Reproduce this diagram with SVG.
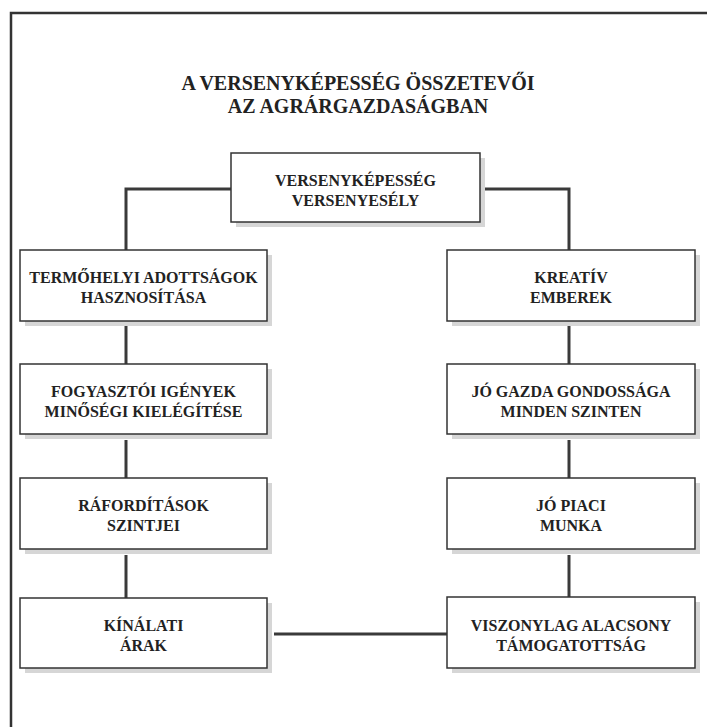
<svg xmlns="http://www.w3.org/2000/svg" width="707" height="727" viewBox="0 0 707 727">
  <style>
    .frame { fill: none; stroke: #333; stroke-width: 2.5; }
    .shadow { fill: #d6d6d6; }
    .box { fill: #fff; stroke: #333; stroke-width: 1.5; }
    .conn { fill: none; stroke: #3a3a3a; stroke-width: 3; }
    text { font-family: 'Liberation Serif', 'Times New Roman', 'DejaVu Serif', serif; font-weight: bold; fill: #222; text-anchor: middle; }
    .title { font-size: 20px; }
    .lbl { font-size: 16px; }
  </style>
  <rect x="0" y="0" width="707" height="727" fill="#fff"/>
  <rect class="frame" x="11" y="13" width="740" height="760"/>

  <g id="title" font-family="Liberation Serif, serif">
    <text class="title" x="358" y="90">A VERSENYKÉPESSÉG ÖSSZETEVŐI</text>
    <text class="title" x="358" y="113">AZ AGRÁRGAZDASÁGBAN</text>
  </g>

  <g id="connectors">
    <polyline class="conn" points="231,189 126,189 126,250"/>
    <polyline class="conn" points="480,189 569,189 569,250"/>
    <line class="conn" x1="126" y1="326" x2="126" y2="364"/>
    <line class="conn" x1="126" y1="440" x2="126" y2="478"/>
    <line class="conn" x1="126" y1="555" x2="126" y2="598"/>
    <line class="conn" x1="569" y1="326" x2="569" y2="364"/>
    <line class="conn" x1="569" y1="440" x2="569" y2="478"/>
    <line class="conn" x1="569" y1="555" x2="569" y2="597"/>
    <line class="conn" x1="274" y1="634" x2="447" y2="634"/>
  </g>

  <g id="n-top">
    <rect class="shadow" x="236" y="158" width="249" height="69"/>
    <rect class="box" x="231" y="153" width="249" height="69"/>
    <text class="lbl" x="355.5" y="186">VERSENYKÉPESSÉG</text>
    <text class="lbl" x="355.5" y="206">VERSENYESÉLY</text>
  </g>

  <g id="n-termohelyi">
    <rect class="shadow" x="25" y="255" width="247" height="71"/>
    <rect class="box" x="20" y="250" width="247" height="71"/>
    <text class="lbl" x="143.5" y="283">TERMŐHELYI ADOTTSÁGOK</text>
    <text class="lbl" x="143.5" y="303">HASZNOSÍTÁSA</text>
  </g>

  <g id="n-fogyasztoi">
    <rect class="shadow" x="25" y="369" width="247" height="70"/>
    <rect class="box" x="20" y="364" width="247" height="70"/>
    <text class="lbl" x="143.5" y="397">FOGYASZTÓI IGÉNYEK</text>
    <text class="lbl" x="143.5" y="417">MINŐSÉGI KIELÉGÍTÉSE</text>
  </g>

  <g id="n-raforditasok">
    <rect class="shadow" x="25" y="483" width="247" height="71"/>
    <rect class="box" x="20" y="478" width="247" height="71"/>
    <text class="lbl" x="143.5" y="511">RÁFORDÍTÁSOK</text>
    <text class="lbl" x="143.5" y="531">SZINTJEI</text>
  </g>

  <g id="n-kinalati">
    <rect class="shadow" x="25" y="603" width="247" height="70"/>
    <rect class="box" x="20" y="598" width="247" height="70"/>
    <text class="lbl" x="143.5" y="631">KÍNÁLATI</text>
    <text class="lbl" x="143.5" y="651">ÁRAK</text>
  </g>

  <g id="n-kreativ">
    <rect class="shadow" x="452" y="255" width="248" height="71"/>
    <rect class="box" x="447" y="250" width="248" height="71"/>
    <text class="lbl" x="571" y="283">KREATÍV</text>
    <text class="lbl" x="571" y="303">EMBEREK</text>
  </g>

  <g id="n-jogazda">
    <rect class="shadow" x="452" y="369" width="248" height="70"/>
    <rect class="box" x="447" y="364" width="248" height="70"/>
    <text class="lbl" x="571" y="397">JÓ GAZDA GONDOSSÁGA</text>
    <text class="lbl" x="571" y="417">MINDEN SZINTEN</text>
  </g>

  <g id="n-jopiaci">
    <rect class="shadow" x="452" y="483" width="248" height="71"/>
    <rect class="box" x="447" y="478" width="248" height="71"/>
    <text class="lbl" x="571" y="511">JÓ PIACI</text>
    <text class="lbl" x="571" y="531">MUNKA</text>
  </g>

  <g id="n-viszonylag">
    <rect class="shadow" x="452" y="602" width="248" height="71"/>
    <rect class="box" x="447" y="597" width="248" height="71"/>
    <text class="lbl" x="571" y="631">VISZONYLAG ALACSONY</text>
    <text class="lbl" x="571" y="651">TÁMOGATOTTSÁG</text>
  </g>
</svg>
